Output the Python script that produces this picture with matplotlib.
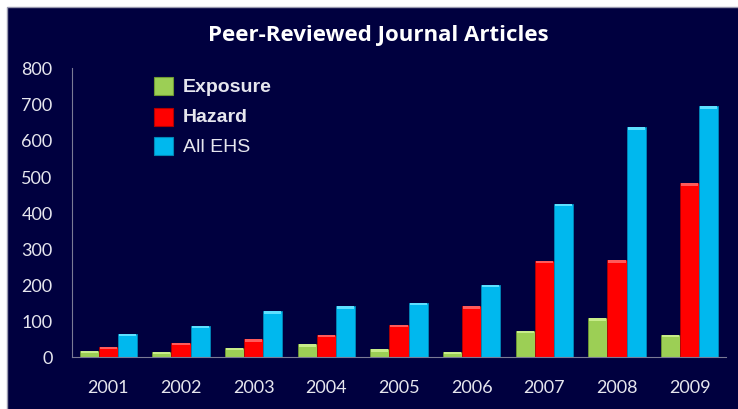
import matplotlib
matplotlib.use("Agg")
import matplotlib.pyplot as plt
from matplotlib.patches import Rectangle
import numpy as np

years = ["2001", "2002", "2003", "2004", "2005", "2006", "2007", "2008", "2009"]
exposure = [16, 14, 25, 35, 22, 13, 72, 107, 61]
hazard = [28, 40, 49, 61, 89, 140, 266, 268, 480]
all_ehs = [64, 87, 127, 141, 150, 200, 423, 635, 693]
series_names = ["Exposure", "Hazard", "All EHS"]
yticks = [0, 100, 200, 300, 400, 500, 600, 700, 800]

navy = "#00003f"
txt = "#e6e6ee"
colors = ["#9ccf55", "#ff0000", "#00b8ee"]
tops = ["#c8ec8a", "#ff5a5a", "#5ee0ff"]
edges = ["#6f9a33", "#b00000", "#0088b8"]

fig = plt.figure(figsize=(7.38, 4.10), dpi=100)
fig.patch.set_facecolor("white")
fig.add_artist(Rectangle((7 / 738, -0.05), 1.1, 1.05 - 8 / 410, transform=fig.transFigure,
                         facecolor=navy, edgecolor="#9a9ab0", lw=1, zorder=0))

ax = fig.add_axes([72 / 738, 1 - 358 / 410, (726 - 72) / 738, (358 - 68.5) / 410])
ax.set_facecolor("none")

x = np.arange(len(years))
w = 0.264
data = [exposure, hazard, all_ehs]
for i, vals in enumerate(data):
    pos = x + (i - 1) * w
    ax.bar(pos, vals, width=w, color=colors[i], edgecolor=edges[i], linewidth=0.6, zorder=2)
    hl = np.minimum(np.array(vals) * 0.35, 7)
    ax.bar(pos, hl, bottom=np.array(vals) - hl, width=w * 0.9, color=tops[i],
           linewidth=0, zorder=3)

ax.set_xlim(-0.5, len(years) - 0.5)
ax.set_ylim(0, 800)
ax.set_yticks(yticks)
ax.set_yticklabels([str(t) for t in yticks])
ax.set_xticks(x)
ax.set_xticklabels(years)
ax.tick_params(axis="both", length=0, colors=txt, labelsize=13)
ax.tick_params(axis="y", pad=14)
ax.tick_params(axis="x", pad=16)
for lab in ax.get_xticklabels() + ax.get_yticklabels():
    lab.set_fontfamily("Lato")
for s in ["top", "right"]:
    ax.spines[s].set_visible(False)
ax.spines["left"].set_color("#7a7a95")
ax.spines["bottom"].set_color("#7a7a95")

fig.text(378 / 738, 1 - 35 / 410, "Peer-Reviewed Journal Articles", ha="center", va="center",
         color="white", fontsize=16, fontweight="bold", fontfamily="Open Sans")

leg_y = [87, 118, 147]
weights = ["bold", "bold", "normal"]
for i, name in enumerate(series_names):
    yc = 1 - leg_y[i] / 410
    fig.add_artist(Rectangle(((163 - 9.5) / 738, yc - 9 / 410), 19 / 738, 18 / 410,
                             transform=fig.transFigure, facecolor=colors[i],
                             edgecolor=edges[i], lw=0.8))
    fig.text(183 / 738, yc, name, ha="left", va="center", color=txt,
             fontsize=14, fontweight=weights[i], fontfamily="Liberation Sans")

fig.savefig("out.png", dpi=100, facecolor=fig.get_facecolor())
